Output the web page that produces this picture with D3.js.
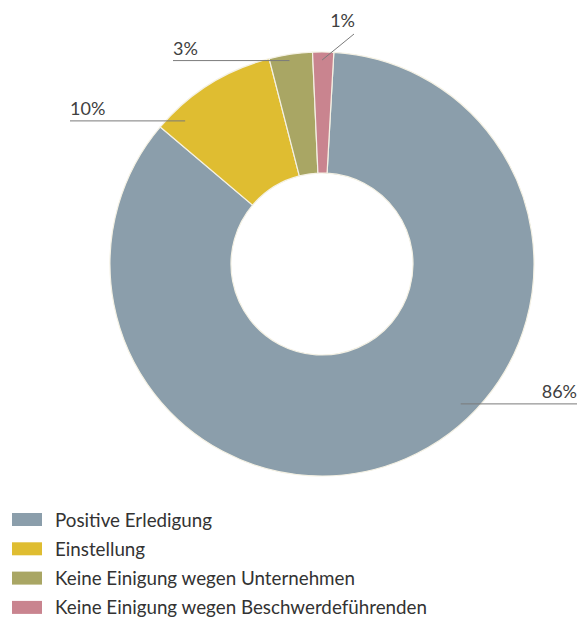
<!DOCTYPE html>
<html>
<head>
<meta charset="utf-8">
<script src="https://cdn.jsdelivr.net/npm/d3@7"></script>
<style>
  html, body { margin: 0; padding: 0; background: #ffffff; }
  svg { display: block; }
</style>
</head>
<body>
<svg id="chart" width="583" height="619"></svg>
<script>
// ---- data ----
const categories = [
  "Positive Erledigung",
  "Einstellung",
  "Keine Einigung wegen Unternehmen",
  "Keine Einigung wegen Beschwerdeführenden"
];
const values = [85.3, 9.8, 3.3, 1.6];
const valueLabels = ["86%", "10%", "3%", "1%"];
const colors = ["#8b9eab", "#dfbd31", "#a9a664", "#c9848f"];

// ---- layout ----
const W = 583, H = 619;
const cx = 322, cy = 264, R = 212, r0 = 91;
const startDeg = 3.2;
const fontFamily = "Lato, 'Open Sans', sans-serif";

const svg = d3.select("#chart");
const g = svg.append("g").attr("transform", `translate(${cx},${cy})`);

const pie = d3.pie().sort(null).value(d => d)
  .startAngle(startDeg * Math.PI / 180)
  .endAngle((startDeg + 360) * Math.PI / 180);
const arcs = pie(values);
const arc = d3.arc().innerRadius(r0).outerRadius(R);

g.selectAll("path.slice").data(arcs).enter().append("path")
  .attr("class", "slice")
  .attr("d", arc)
  .attr("fill", (d, i) => colors[i])
  .attr("stroke", "#f4f1e4")
  .attr("stroke-width", 1.2);

// label leader config: fraction within slice, anchor radius, label style
const leaderCfg = [
  { t: 0.43, rad: 197, kind: "h", endX: 577, anchor: "end" },
  { t: 0.17, rad: 198, kind: "h", endX: 70, anchor: "start" },
  { t: 0.45, rad: 206, kind: "h", endX: 173, anchor: "start" },
  { t: 0.45, rad: 204, kind: "d", endX: 354, endY: 34, anchor: "end" }
];

const labelSize = 18;
const lab = svg.append("g");
arcs.forEach((a, i) => {
  const c = leaderCfg[i];
  const ang = a.startAngle + c.t * (a.endAngle - a.startAngle);
  const ax = cx + c.rad * Math.sin(ang);
  const ay = cy - c.rad * Math.cos(ang);
  if (c.kind === "h") {
    lab.append("line")
      .attr("x1", ax).attr("y1", ay).attr("x2", c.endX).attr("y2", ay)
      .attr("stroke", "#7b7b7b").attr("stroke-width", 1);
    lab.append("text")
      .attr("x", c.endX).attr("y", ay - 6)
      .attr("text-anchor", c.anchor)
      .attr("font-family", fontFamily).attr("font-size", labelSize)
      .attr("fill", "#404040")
      .text(valueLabels[i]);
  } else {
    lab.append("line")
      .attr("x1", ax).attr("y1", ay).attr("x2", c.endX).attr("y2", c.endY)
      .attr("stroke", "#7b7b7b").attr("stroke-width", 1);
    lab.append("text")
      .attr("x", c.endX + 1).attr("y", c.endY - 7)
      .attr("text-anchor", c.anchor)
      .attr("font-family", fontFamily).attr("font-size", labelSize)
      .attr("fill", "#404040")
      .text(valueLabels[i]);
  }
});

// legend
const legend = svg.append("g").attr("transform", "translate(12,513)");
const rowH = 29.3;
const items = legend.selectAll("g").data(categories).enter().append("g")
  .attr("transform", (d, i) => `translate(0,${i * rowH})`);
items.append("rect")
  .attr("width", 30).attr("height", 13)
  .attr("fill", (d, i) => colors[i]);
items.append("text")
  .attr("x", 43).attr("y", 13.5)
  .attr("font-family", fontFamily).attr("font-size", 18.8)
  .attr("fill", "#333")
  .text(d => d);
</script>
</body>
</html>
